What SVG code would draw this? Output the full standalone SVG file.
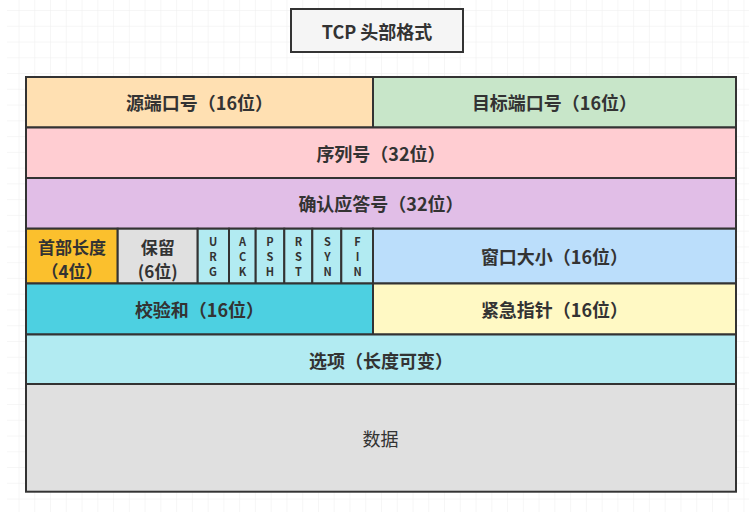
<svg xmlns="http://www.w3.org/2000/svg" width="749" height="512" viewBox="0 0 749 512">
<defs>
<pattern id="grid" x="3.74" y="-4.76" width="15.76" height="15.76" patternUnits="userSpaceOnUse">
<path d="M15.76 0V15.76M0 15.76H15.76" fill="none" stroke="#eeeeee" stroke-width="1"/>
</pattern>
<style>
.cell{stroke:#333333;stroke-width:2}
.t{font-family:"Noto Sans CJK SC","Noto Sans",sans-serif;font-size:18px;font-weight:bold;fill:#333333;text-anchor:middle;dominant-baseline:central}
.s{font-size:17px}
.f{font-family:"Noto Sans CJK SC","Noto Sans",sans-serif;font-size:11px;font-weight:bold;fill:#333333;text-anchor:middle;dominant-baseline:central}
</style>
</defs>
<rect width="749" height="512" fill="#ffffff"/>
<rect x="7" y="0" width="742" height="512" fill="url(#grid)"/>
<g id="title">
<rect x="291" y="9" width="172" height="43" fill="#f5f5f5" class="cell"/>
<text class="t" x="377" y="30.5">TCP 头部格式</text>
</g>
<g id="src-port">
<rect class="cell" x="26" y="77" width="347" height="50.5" fill="#ffe0b2"/>
<text class="t" x="199.5" y="102">源端口号（16位）</text>
</g>
<g id="dst-port">
<rect class="cell" x="373" y="77" width="363" height="50.5" fill="#c8e6c9"/>
<text class="t" x="554.5" y="102">目标端口号（16位）</text>
</g>
<g id="seq">
<rect class="cell" x="26" y="127.5" width="710" height="50.5" fill="#ffcdd2"/>
<text class="t" x="381" y="152.5">序列号（32位）</text>
</g>
<g id="ack">
<rect class="cell" x="26" y="178" width="710" height="50.7" fill="#e1bee7"/>
<text class="t" x="381" y="203">确认应答号（32位）</text>
</g>
<g id="hdr-len">
<rect class="cell" x="26" y="228.7" width="91.7" height="54.8" fill="#fbc02d"/>
<text class="t s" x="72" y="246.5">首部长度</text>
<text class="t s" x="72" y="270">（4位）</text>
</g>
<g id="reserved">
<rect class="cell" x="117.7" y="228.7" width="80" height="54.8" fill="#e0e0e0"/>
<text class="t s" x="157.7" y="246.5">保留</text>
<text class="t s" x="157.7" y="270">(6位)</text>
</g>
<g id="urg">
<rect class="cell" x="197.7" y="228.7" width="31.3" height="54.8" fill="#b2ebf2"/>
<text class="f" x="213" y="241">U</text><text class="f" x="213" y="256">R</text><text class="f" x="213" y="271">G</text>
</g>
<g id="ack-flag">
<rect class="cell" x="229" y="228.7" width="26.7" height="54.8" fill="#b2ebf2"/>
<text class="f" x="242.5" y="241">A</text><text class="f" x="242.5" y="256">C</text><text class="f" x="242.5" y="271">K</text>
</g>
<g id="psh">
<rect class="cell" x="255.7" y="228.7" width="28.6" height="54.8" fill="#b2ebf2"/>
<text class="f" x="270" y="241">P</text><text class="f" x="270" y="256">S</text><text class="f" x="270" y="271">H</text>
</g>
<g id="rst">
<rect class="cell" x="284.3" y="228.7" width="28" height="54.8" fill="#b2ebf2"/>
<text class="f" x="298.5" y="241">R</text><text class="f" x="298.5" y="256">S</text><text class="f" x="298.5" y="271">T</text>
</g>
<g id="syn">
<rect class="cell" x="312.3" y="228.7" width="29" height="54.8" fill="#b2ebf2"/>
<text class="f" x="327.5" y="241">S</text><text class="f" x="327.5" y="256">Y</text><text class="f" x="327.5" y="271">N</text>
</g>
<g id="fin">
<rect class="cell" x="341.3" y="228.7" width="31.7" height="54.8" fill="#b2ebf2"/>
<text class="f" x="357.5" y="241">F</text><text class="f" x="357.5" y="256">I</text><text class="f" x="357.5" y="271">N</text>
</g>
<g id="window">
<rect class="cell" x="373" y="228.7" width="363" height="54.8" fill="#bbdefb"/>
<text class="t" x="554.5" y="256">窗口大小（16位）</text>
</g>
<g id="checksum">
<rect class="cell" x="26" y="283.5" width="347" height="51" fill="#4dd0e1"/>
<text class="t" x="199.5" y="309">校验和（16位）</text>
</g>
<g id="urgent">
<rect class="cell" x="373" y="283.5" width="363" height="51" fill="#fff9c4"/>
<text class="t" x="554.5" y="309">紧急指针（16位）</text>
</g>
<g id="options">
<rect class="cell" x="26" y="334.5" width="710" height="49.5" fill="#b2ebf2"/>
<text class="t" x="381" y="359.5">选项（长度可变）</text>
</g>
<g id="data">
<rect class="cell" x="26" y="384" width="710" height="107.7" fill="#e0e0e0"/>
<text class="t" x="380.5" y="438" style="font-weight:normal">数据</text>
</g>
<g id="connectors"></g>
</svg>
